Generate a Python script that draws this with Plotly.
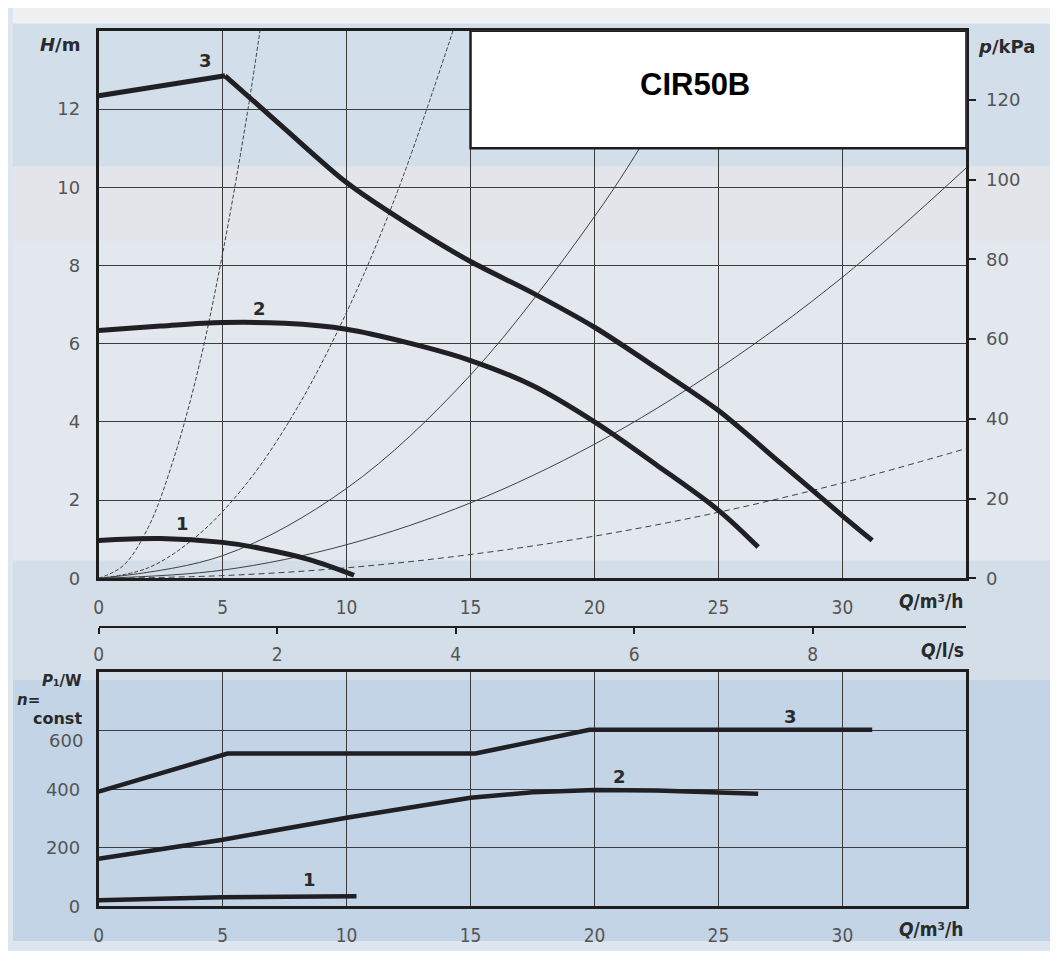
import plotly.graph_objects as go

# ---------------- data ----------------
# pump curves H/m vs Q/m3/h
q_h3 = [0, 5.1, 7.5, 10, 12.5, 15, 17.5, 20, 22.5, 25, 27.5, 30, 31.2]
h_3 = [12.34, 12.85, 11.5, 10.12, 9.05, 8.1, 7.3, 6.42, 5.38, 4.29, 2.95, 1.6, 0.97]
q_h2 = [0, 2.5, 5, 7.5, 10, 12.5, 15, 17.5, 20, 22.5, 25, 26.6]
h_2 = [6.34, 6.45, 6.54, 6.52, 6.37, 6.02, 5.57, 4.93, 4.0, 2.9, 1.74, 0.8]
q_h1 = [0, 2.5, 5, 6.5, 8.5, 10.3]
h_1 = [0.97, 1.02, 0.92, 0.77, 0.48, 0.08]

# system curves (thin), H/m vs Q/m3/h
q_sa = [0, 1, 2, 3, 4, 5, 6, 6.6]
h_sa = [0, 0.33, 1.3, 3.0, 5.3, 8.3, 11.9, 14.4]
q_sb = [0, 2, 4, 6, 8, 10, 12, 14.5]
h_sb = [0, 0.27, 1.1, 2.45, 4.35, 6.8, 9.8, 14.4]
q_sc = [0, 5, 10, 15, 20, 22.5, 25]
h_sc = [0, 0.58, 2.3, 5.2, 9.25, 11.7, 14.4]
q_sd = [0, 5, 10, 15, 20, 25, 30, 35]
h_sd = [0, 0.21, 0.86, 1.93, 3.43, 5.36, 7.7, 10.5]
q_se = [0, 5, 10, 15, 20, 25, 30, 35]
h_se = [0, 0.07, 0.27, 0.61, 1.08, 1.69, 2.44, 3.32]

# power curves P1/W vs Q/m3/h
q_p3 = [0, 5.2, 15.2, 19.8, 31.2]
p_3 = [392, 522, 522, 603, 603]
q_p2 = [0, 5, 10, 15, 17.5, 20, 22.5, 25, 26.6]
p_2 = [163, 228, 303, 371, 390, 398, 396, 390, 385]
q_p1 = [0, 5, 10.4]
p_1 = [21, 32, 35]

# axes ticks
q_ticks = [0, 5, 10, 15, 20, 25, 30]
h_ticks = [0, 2, 4, 6, 8, 10, 12]
kpa_ticks = [0, 20, 40, 60, 80, 100, 120]
ls_ticks = [0, 2, 4, 6, 8]
w_ticks = [0, 200, 400, 600]
w_ticktext = ["0", "200", "400", ""]   # "600" is printed slightly lower in the original

Q_MAX = 35
H_MAX = 14
KPA_MAX = H_MAX * 9.81
LS_MAX = Q_MAX / 3.6
W_MAX = 800

# ---------------- figure ----------------
OFF = 8
W, H = 1058 - 2 * OFF, 959 - 2 * OFF
def px(x):
    t = (x - 3.2) / 0.9977
    return (t - OFF) / W
def py(y):
    t = (y + 1.8) / 0.992
    return (H - (t - OFF)) / H

GRID = "#3c3c3c"
AX = "#1e1e1e"
TICKC = "#555555"
CURVE = "#1f1f24"
THIN = "#404040"

fig = go.Figure()

sys_sets = [(q_sa, h_sa, "4px,2px"), (q_sb, h_sb, "4px,2px"), (q_sc, h_sc, "solid"),
            (q_sd, h_sd, "solid"), (q_se, h_se, "6px,4px")]
for qx, hy, d in sys_sets:
    fig.add_trace(go.Scatter(x=qx, y=hy, mode="lines", line=dict(color=THIN, width=1, dash=d, shape="spline"),
                             xaxis="x", yaxis="y", hoverinfo="skip", showlegend=False))

# curve 3: sharp corner at the peak -> rising part straight, falling part smooth
fig.add_trace(go.Scatter(x=q_h3[:2], y=h_3[:2], mode="lines", line=dict(color=CURVE, width=5),
                         xaxis="x", yaxis="y", showlegend=False))
fig.add_trace(go.Scatter(x=q_h3[1:], y=h_3[1:], mode="lines",
                         line=dict(color=CURVE, width=5, shape="spline", smoothing=0.8),
                         xaxis="x", yaxis="y", showlegend=False))
for qx, hy in [(q_h2, h_2), (q_h1, h_1)]:
    fig.add_trace(go.Scatter(x=qx, y=hy, mode="lines", line=dict(color=CURVE, width=5, shape="spline", smoothing=1),
                             xaxis="x", yaxis="y", showlegend=False))

for qx, pw in [(q_p3, p_3), (q_p2, p_2), (q_p1, p_1)]:
    fig.add_trace(go.Scatter(x=qx, y=pw, mode="lines", line=dict(color=CURVE, width=4.5),
                             xaxis="x2", yaxis="y3", showlegend=False))

# dummy traces to activate secondary axes
fig.add_trace(go.Scatter(x=[0], y=[0], xaxis="x", yaxis="y2", mode="markers",
                         marker=dict(opacity=0), hoverinfo="skip", showlegend=False))
fig.add_trace(go.Scatter(x=[0], y=[0], xaxis="x3", yaxis="y", mode="markers",
                         marker=dict(opacity=0), hoverinfo="skip", showlegend=False))

dom_x = [px(97), px(967)]
tickfont_y = dict(family="DejaVu Sans", size=18, color=TICKC)
tickfont_x = dict(family="DejaVu Sans Condensed, DejaVu Sans", size=19, color=TICKC)

common_x = dict(domain=dom_x, range=[0, Q_MAX], tickvals=q_ticks, showgrid=True, gridcolor=GRID,
                gridwidth=1.2, showline=True, linecolor=AX, linewidth=2.5, mirror=True, ticks="",
                ticklabelstandoff=10, tickfont=tickfont_x, zeroline=False, fixedrange=True)

fig.update_layout(
    width=W, height=H,
    margin=dict(l=0, r=0, t=0, b=0),
    paper_bgcolor="#dde5ee",
    plot_bgcolor="rgba(0,0,0,0)",
    xaxis=dict(anchor="y", **common_x),
    yaxis=dict(domain=[py(578), py(29)], range=[0, H_MAX], tickvals=h_ticks, showgrid=True,
               gridcolor=GRID, gridwidth=1.2, showline=True, linecolor=AX, linewidth=2.5,
               mirror=True, ticks="", ticklabelstandoff=12, tickfont=tickfont_y, zeroline=False,
               anchor="x", fixedrange=True),
    yaxis2=dict(overlaying="y", side="right", anchor="x", range=[0, KPA_MAX], tickvals=kpa_ticks,
                showgrid=False, showline=False, ticks="outside", ticklen=9, tickwidth=2,
                tickcolor=AX, ticklabelstandoff=6, tickfont=tickfont_y, zeroline=False, fixedrange=True),
    xaxis3=dict(overlaying="x", anchor="free", position=py(627), side="bottom", range=[0, LS_MAX],
                tickvals=ls_ticks, showgrid=False, showline=True, linecolor=AX, linewidth=2,
                ticks="outside", ticklen=6, tickwidth=2, tickcolor=AX, tickfont=tickfont_x,
                ticklabelstandoff=4, zeroline=False, fixedrange=True),
    xaxis2=dict(anchor="y3", **common_x),
    yaxis3=dict(domain=[py(907), py(672)], range=[0, W_MAX], tickvals=w_ticks, ticktext=w_ticktext,
                showgrid=True, gridcolor=GRID, gridwidth=1.2, showline=True, linecolor=AX, linewidth=2.5,
                mirror=True, ticks="", ticklabelstandoff=12, tickfont=tickfont_y, zeroline=False,
                anchor="x2", fixedrange=True),
)

# background bands (scan tint)
bands = [(0, 22, "#eef0f2"), (22, 165, "#d2deea"), (165, 240, "#e3e5ea"), (240, 560, "#e3e8ee"),
         (560, 680, "#d4dee9"), (680, 959, "#c3d4e6")]
shapes = []
for y0, y1, c in bands:
    shapes.append(dict(type="rect", xref="paper", yref="paper", x0=0, x1=1, y0=max(py(y1), 0),
                       y1=min(py(y0), 1), fillcolor=c, line=dict(width=0), layer="below"))
# white product label box
shapes.append(dict(type="rect", xref="x", yref="y", x0=15, x1=35, y0=11, y1=14,
                   fillcolor="white", line=dict(color=AX, width=2.5), layer="above"))
fig.update_layout(shapes=shapes)

ann = []
def a(x, y, text, xref="paper", yref="paper", size=18, color="#2a2a2a", xanchor="center",
      family="DejaVu Sans", yanchor="middle", yshift=0):
    ann.append(dict(x=x, y=y, xref=xref, yref=yref, text=text, showarrow=False, yshift=yshift,
                    font=dict(family=family, size=size, color=color), xanchor=xanchor, yanchor=yanchor))

a(px(695), py(83), "<b>CIR50B</b>", size=31, color="#000", family="Liberation Sans, Arial")
a(px(80), py(43), "<b><i>H</i>/m</b>", xanchor="right", size=18)
a(px(977), py(45), "<b><i>p</i>/kPa</b>", xanchor="left", size=18)
a(px(967), py(601), "<b><i>Q</i>/m³/h</b>", xanchor="right", size=19,
  family="DejaVu Sans Condensed, DejaVu Sans")
a(px(967), py(650), "<b><i>Q</i>/l/s</b>", xanchor="right", size=19,
  family="DejaVu Sans Condensed, DejaVu Sans")
a(px(967), py(930), "<b><i>Q</i>/m³/h</b>", xanchor="right", size=19,
  family="DejaVu Sans Condensed, DejaVu Sans")
a(px(82), py(681), "<b><i>P</i>₁/W</b>", xanchor="right", size=15)
a(px(13), py(700), "<b><i>n</i>=</b>", xanchor="left", size=15)
a(px(82), py(719), "<b>const</b>", xanchor="right", size=16)
# lowered "600" tick label of the power axis
a(px(83), py(741), "600", xanchor="right", size=18, color=TICKC)

# curve numbers
for x, y, t, xr, yr in [(4.3, 13.25, "3", "x", "y"), (6.5, 6.9, "2", "x", "y"), (3.4, 1.4, "1", "x", "y"),
                         (27.9, 650, "3", "x2", "y3"), (21.0, 445, "2", "x2", "y3"), (8.5, 92, "1", "x2", "y3")]:
    a(x, y, "<b>" + t + "</b>", xref=xr, yref=yr, size=18)

fig.update_layout(annotations=ann)

fig.write_html("out.html")
